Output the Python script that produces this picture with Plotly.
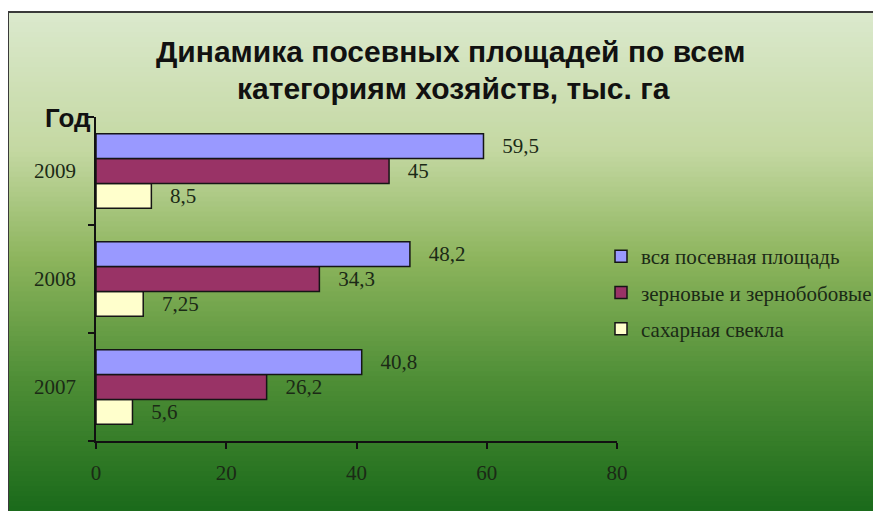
import plotly.graph_objects as go

years = ["2007", "2008", "2009"]
series_names = ["вся посевная площадь", "зерновые и зернобобовые", "сахарная свекла"]
total_area = [40.8, 48.2, 59.5]
grain = [26.2, 34.3, 45]
sugar_beet = [5.6, 7.25, 8.5]
x_ticks = [0, 20, 40, 60, 80]

colors = ["#9999FF", "#993366", "#FFFFCC"]
series_values = [total_area, grain, sugar_beet]

# page body has an 8px margin; figure sized to fit the 881x511 window
OFF = 8
W, H = 881 - OFF, 511 - OFF
ML = 96 - OFF
MT = 117 - OFF
MR = W - (617 - OFF)
MB = H - (441 - OFF)
PW = W - ML - MR
PH = H - MT - MB


def sx(x):
    """paper x for a screen-pixel x"""
    return (x - OFF - ML) / PW


def sy(y):
    """paper y for a screen-pixel y"""
    return (H - MB - (y - OFF)) / PH


serif = "Liberation Serif, Times New Roman, serif"
sans = "Liberation Sans, Arial, sans-serif"
txtcol = "#1b2a16"

fig = go.Figure()
# add in reverse so first series sits at top of each group
series = list(zip(series_names, series_values, colors))
for rank in [3, 2, 1]:
    name, vals, col = series[rank - 1]
    fig.add_trace(go.Bar(
        y=years, x=vals, orientation="h", name=name,
        legendgroup=name, legendrank=rank,
        marker=dict(color=col, line=dict(color="#151515", width=1.5)),
        text=["   " + str(v).replace(".", ",") for v in vals],
        textposition="outside", cliponaxis=False,
        textfont=dict(family=serif, size=21, color=txtcol),
    ))

# gradient background bands
stops = [(12, (219, 233, 205)), (150, (196, 216, 162)), (260, (140, 180, 92)),
         (380, (78, 142, 54)), (511, (26, 106, 26))]


def col_at(y):
    for (y0, c0), (y1, c1) in zip(stops[:-1], stops[1:]):
        if y0 <= y <= y1:
            t = (y - y0) / (y1 - y0)
            return tuple(int(round(a + (b - a) * t)) for a, b in zip(c0, c1))
    return stops[-1][1]


shapes = []
N = 100
top = 12
step = (511 - top) / N
for i in range(N):
    ya = top + i * step
    yb = ya + step + 0.8
    c = col_at(ya + step / 2)
    shapes.append(dict(type="rect", xref="paper", yref="paper", layer="below",
                       x0=sx(8), x1=sx(900), y0=sy(ya), y1=sy(min(yb, 520)),
                       fillcolor="rgb(%d,%d,%d)" % c, line=dict(width=0)))
# frame
shapes.append(dict(type="rect", xref="paper", yref="paper", layer="above",
                   x0=sx(8), x1=sx(900), y0=sy(12), y1=sy(530),
                   fillcolor="rgba(0,0,0,0)", line=dict(color="#3a3a3a", width=2)))

title_font = dict(family=sans, size=30, color="#111111")
annotations = [
    dict(text="<b>Динамика посевных площадей по всем</b>", xref="paper", yref="paper",
         x=sx(451), y=sy(51), showarrow=False, font=title_font, xanchor="center", yanchor="middle"),
    dict(text="<b>категориям хозяйств, тыс. га</b>", xref="paper", yref="paper",
         x=sx(453), y=sy(88), showarrow=False, font=title_font, xanchor="center", yanchor="middle"),
    dict(text="<b>Год</b>", xref="paper", yref="paper",
         x=sx(93), y=sy(118), showarrow=False, xanchor="right", yanchor="middle",
         font=dict(family=sans, size=26, color="#111111")),
]

fig.update_layout(
    width=W, height=H,
    margin=dict(l=ML, r=MR, t=MT, b=MB, pad=0, autoexpand=False),
    paper_bgcolor="white", plot_bgcolor="rgba(0,0,0,0)",
    barmode="group", bargap=0.31, bargroupgap=0,
    showlegend=True,
    legend=dict(x=sx(601), y=sy(236), xanchor="left", yanchor="top",
                traceorder="grouped", tracegroupgap=6,
                bgcolor="rgba(0,0,0,0)",
                font=dict(family=serif, size=21, color=txtcol),
                itemwidth=30),
    shapes=shapes, annotations=annotations,
    xaxis=dict(range=[0, 80], tickvals=x_ticks, ticks="outside", ticklen=6, tickwidth=1.5,
               tickcolor="#111111", showline=True, linecolor="#111111", linewidth=1.5,
               showgrid=False, zeroline=False, ticklabelstandoff=6,
               tickfont=dict(family=serif, size=21, color=txtcol), fixedrange=True),
    yaxis=dict(type="category", categoryorder="array", categoryarray=years,
               ticks="outside", tickson="boundaries", ticklen=6, tickwidth=1.5,
               tickcolor="#111111", showline=True, linecolor="#111111", linewidth=1.5,
               showgrid=False, zeroline=False, ticklabelstandoff=14,
               tickfont=dict(family=serif, size=21, color=txtcol)),
)

fig.write_html("out.html")
